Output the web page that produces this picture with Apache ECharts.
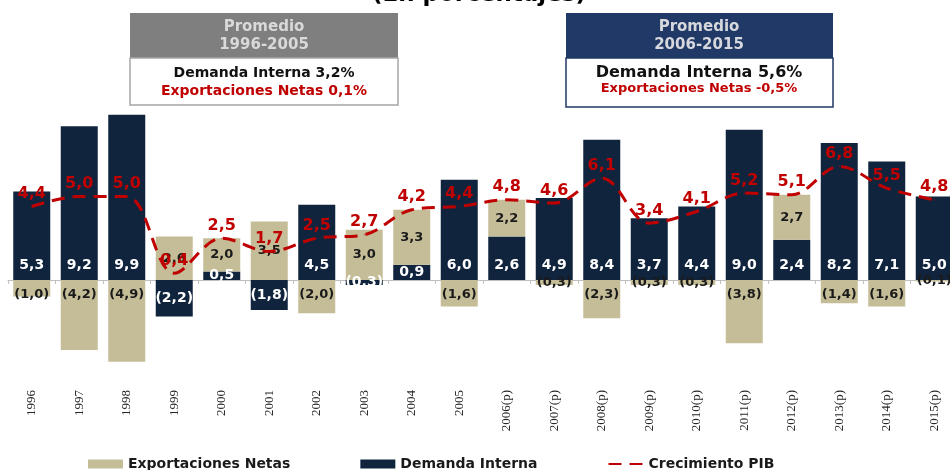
<!DOCTYPE html>
<html>
<head>
<meta charset="utf-8">
<style>
  html, body { margin: 0; padding: 0; background: #ffffff; }
  #chart { width: 950px; height: 470px; }
</style>
<script src="https://cdn.jsdelivr.net/npm/echarts@6/dist/echarts.min.js"></script>
</head>
<body>
<div id="chart"></div>
<script>
// Data
const years = ['1996', '1997', '1998', '1999', '2000', '2001', '2002', '2003', '2004', '2005',
  '2006(p)', '2007(p)', '2008(p)', '2009(p)', '2010(p)', '2011(p)', '2012(p)', '2013(p)', '2014(p)', '2015(p)'];
const demandaInterna = [5.3, 9.2, 9.9, -2.2, 0.5, -1.8, 4.5, -0.3, 0.9, 6.0,
  2.6, 4.9, 8.4, 3.7, 4.4, 9.0, 2.4, 8.2, 7.1, 5.0];
const exportacionesNetas = [-1.0, -4.2, -4.9, 2.6, 2.0, 3.5, -2.0, 3.0, 3.3, -1.6,
  2.2, -0.3, -2.3, -0.3, -0.3, -3.8, 2.7, -1.4, -1.6, -0.1];
const crecimientoPIB = [4.4, 5.0, 5.0, 0.4, 2.5, 1.7, 2.5, 2.7, 4.2, 4.4,
  4.8, 4.6, 6.1, 3.4, 4.1, 5.2, 5.1, 6.8, 5.5, 4.8];

const colors = {
  navy: '#10243e',
  khaki: '#c4bd97',
  red: '#c00000',
  axis: '#bfbfbf',
  headerGray: '#7f7f7f',
  headerNavy: '#213966',
};
const FONT = 'DejaVu Sans';

const fmt = (v) => {
  const s = Math.abs(v).toFixed(1).replace('.', ',');
  return v < 0 ? '(' + s + ')' : s;
};

// label placement per bar, following the reference (small bars get centred labels)
const diData = demandaInterna.map((v) => ({
  value: v,
  label: { position: (v > 0 && v >= 1) ? 'insideBottom' : 'inside' },
}));
const nxData = exportacionesNetas.map((v) => ({
  value: v,
  label: { position: (v < 0 && v <= -1) ? 'insideTop' : 'inside' },
}));

const chart = echarts.init(document.getElementById('chart'));

const option = {
  backgroundColor: '#ffffff',
  animation: false,
  textStyle: { fontFamily: FONT },
  grid: { left: 8, width: 950, top: 113, height: 267, outerBoundsMode: 'none', containLabel: false },
  legend: {
    left: 83,
    top: 452,
    itemWidth: 35,
    itemHeight: 9,
    itemGap: 70,
    textStyle: { fontFamily: FONT, fontWeight: 'bold', fontSize: 14, color: '#1a1a1a' },
    data: [
      { name: 'Exportaciones Netas', icon: 'rect' },
      { name: 'Demanda Interna', icon: 'rect' },
      { name: 'Crecimiento PIB', itemStyle: { opacity: 0 } },
    ],
  },
  xAxis: {
    type: 'category',
    data: years,
    axisLine: { lineStyle: { color: colors.axis, width: 1 } },
    axisTick: { show: true, length: 4, lineStyle: { color: colors.axis } },
    axisLabel: {
      interval: 0,
      rotate: 90,
      margin: 10,
      fontFamily: 'Liberation Sans Narrow',
      fontSize: 13,
      color: '#262626',
    },
  },
  yAxis: {
    type: 'value',
    min: -6,
    max: 10,
    show: false,
    splitLine: { show: false },
  },
  series: [
    {
      name: 'Demanda Interna',
      type: 'bar',
      stack: 'total',
      barWidth: 37,
      data: diData,
      itemStyle: { color: colors.navy },
      label: {
        show: true,
        distance: 8,
        formatter: (p) => fmt(p.value),
        color: '#ffffff',
        fontFamily: FONT,
        fontWeight: 'bold',
        fontSize: 14,
      },
    },
    {
      name: 'Exportaciones Netas',
      type: 'bar',
      stack: 'total',
      barWidth: 37,
      data: nxData,
      itemStyle: { color: colors.khaki },
      label: {
        show: true,
        distance: 8,
        formatter: (p) => fmt(p.value),
        color: '#1a1a1a',
        fontFamily: FONT,
        fontWeight: 'bold',
        fontSize: 13,
      },
    },
    {
      name: 'Crecimiento PIB',
      type: 'line',
      data: crecimientoPIB,
      smooth: 0.35,
      symbol: 'circle',
      symbolSize: 1,
      showSymbol: true,
      showAllSymbol: true,
      z: 5,
      itemStyle: { color: colors.red },
      lineStyle: { color: colors.red, width: 3, type: [13, 8] },
      label: {
        show: true,
        position: 'top',
        distance: 4,
        formatter: (p) => fmt(p.value),
        color: colors.red,
        fontFamily: FONT,
        fontWeight: 'bold',
        fontSize: 16,
      },
    },
  ],
  graphic: [
    {
      type: 'text',
      style: {
        text: '(En porcentajes)',
        x: 479,
        y: 7,
        align: 'center',
        verticalAlign: 'bottom',
        font: 'bold 23px "DejaVu Sans"',
        fill: '#000000',
      },
    },
    // left box
    { type: 'rect', shape: { x: 130, y: 13, width: 268, height: 45 }, style: { fill: colors.headerGray } },
    { type: 'text', style: { text: 'Promedio', x: 264, y: 27, align: 'center', verticalAlign: 'middle', font: 'bold 15px "DejaVu Sans"', fill: '#d9d9d9' } },
    { type: 'text', style: { text: '1996-2005', x: 264, y: 45, align: 'center', verticalAlign: 'middle', font: 'bold 15px "DejaVu Sans"', fill: '#d9d9d9' } },
    { type: 'rect', shape: { x: 130, y: 58, width: 268, height: 47 }, style: { fill: '#ffffff', stroke: '#a6a6a6', lineWidth: 1.5 } },
    { type: 'text', style: { text: 'Demanda Interna 3,2%', x: 264, y: 73, align: 'center', verticalAlign: 'middle', font: 'bold 14px "DejaVu Sans"', fill: '#111111' } },
    { type: 'text', style: { text: 'Exportaciones Netas 0,1%', x: 264, y: 91, align: 'center', verticalAlign: 'middle', font: 'bold 14px "DejaVu Sans"', fill: colors.red } },
    // right box
    { type: 'rect', shape: { x: 566, y: 13, width: 267, height: 45 }, style: { fill: colors.headerNavy } },
    { type: 'text', style: { text: 'Promedio', x: 699, y: 27, align: 'center', verticalAlign: 'middle', font: 'bold 15px "DejaVu Sans"', fill: '#d6d8dd' } },
    { type: 'text', style: { text: '2006-2015', x: 699, y: 45, align: 'center', verticalAlign: 'middle', font: 'bold 15px "DejaVu Sans"', fill: '#d6d8dd' } },
    { type: 'rect', shape: { x: 566, y: 58, width: 267, height: 49 }, style: { fill: '#ffffff', stroke: colors.headerNavy, lineWidth: 1.5 } },
    { type: 'text', style: { text: 'Demanda Interna 5,6%', x: 699, y: 73, align: 'center', verticalAlign: 'middle', font: 'bold 16px "DejaVu Sans"', fill: '#111111' } },
    { type: 'text', style: { text: 'Exportaciones Netas -0,5%', x: 699, y: 89, align: 'center', verticalAlign: 'middle', font: 'bold 13px "DejaVu Sans"', fill: colors.red } },
  ],
};

chart.setOption(option);
</script>
</body>
</html>
